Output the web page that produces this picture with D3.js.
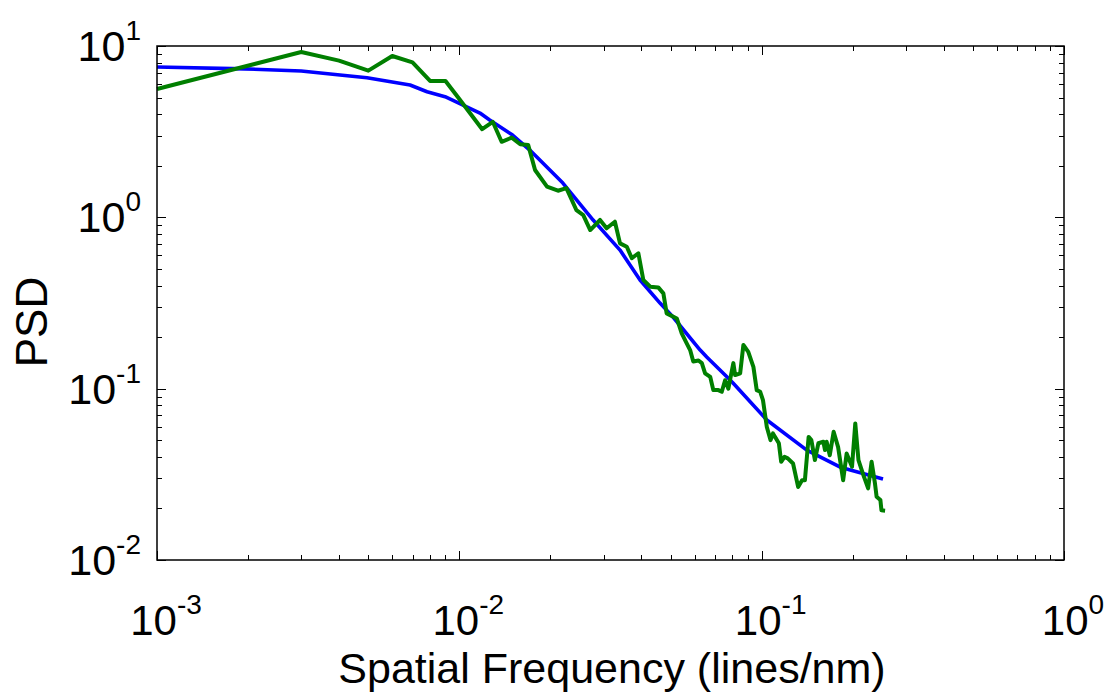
<!DOCTYPE html>
<meta charset="utf-8">
<style>
  body { margin: 0; background: #fff; }
  text { font-family: "Liberation Sans", Arial, Helvetica, sans-serif; fill: #000; }
</style>
<svg width="1109" height="696"></svg>
<script src="https://d3js.org/d3.v7.min.js"></script>
<script>

// smooth model fit (blue)
var fitFreq = [0.001, 0.00195, 0.003, 0.00403, 0.00495, 0.00687, 0.00782, 0.00897, 0.0117, 0.0126,
               0.0150, 0.0171, 0.0220, 0.0277, 0.0340, 0.0396, 0.0461, 0.0509, 0.0626, 0.0658,
               0.0776, 0.0804, 0.104, 0.141, 0.182, 0.252];
var fitPsd  = [7.54, 7.35, 7.15, 6.78, 6.53, 5.92, 5.41, 5.06, 4.06, 3.70,
               3.02, 2.47, 1.585, 0.964, 0.644, 0.431, 0.316, 0.262, 0.168, 0.153,
               0.115, 0.108, 0.0656, 0.0438, 0.0348, 0.0297];

// measured spectrum (green)
var measFreq = [0.001, 0.003, 0.004, 0.005, 0.006, 0.007, 0.008, 0.009, 0.010, 0.0119,
                0.0129, 0.0138, 0.0149, 0.0159, 0.0169, 0.0178, 0.0195, 0.0212, 0.0226, 0.0244,
                0.0257, 0.0271, 0.0292, 0.0307, 0.0327, 0.0340, 0.0358, 0.0372, 0.0391, 0.0406,
                0.0428, 0.0455, 0.0473, 0.0485, 0.0524, 0.0544, 0.0565, 0.0580, 0.0594, 0.0618,
                0.0634, 0.0650, 0.0676, 0.0692, 0.0719, 0.0738, 0.0757, 0.0776, 0.0806, 0.0817,
                0.0849, 0.0870, 0.0903, 0.0939, 0.0963, 0.0989, 0.101, 0.104, 0.107, 0.109,
                0.114, 0.116, 0.119, 0.122, 0.127, 0.132, 0.136, 0.139, 0.143, 0.146,
                0.150, 0.154, 0.160, 0.162, 0.164, 0.168, 0.173, 0.179, 0.186, 0.191,
                0.199, 0.204, 0.209, 0.217, 0.225, 0.231, 0.237, 0.240, 0.247, 0.249, 0.256];
var measPsd  = [5.61, 9.23, 8.21, 7.18, 8.74, 8.03, 6.25, 6.25, 4.91, 3.27,
                3.61, 2.76, 2.92, 2.67, 2.64, 1.89, 1.51, 1.43, 1.48, 1.10,
                1.03, 0.843, 0.965, 0.863, 0.943, 0.705, 0.673, 0.577, 0.617, 0.431,
                0.394, 0.390, 0.360, 0.275, 0.257, 0.210, 0.184, 0.168, 0.144, 0.146,
                0.141, 0.123, 0.117, 0.0981, 0.0981, 0.0959, 0.112, 0.100, 0.141, 0.120,
                0.123, 0.180, 0.164, 0.134, 0.0981, 0.0959, 0.0857, 0.0597, 0.0501, 0.0548,
                0.0480, 0.0374, 0.0400, 0.0392, 0.0366, 0.0267, 0.0292, 0.0292, 0.0523, 0.0501,
                0.0383, 0.0480, 0.0490, 0.0438, 0.0490, 0.0409, 0.0560, 0.0456, 0.0292, 0.0419,
                0.0350, 0.0627, 0.0383, 0.0313, 0.0262, 0.0374, 0.0280, 0.0234, 0.0224, 0.0195, 0.0194];

var xExps = [-3, -2, -1, 0];
var yExps = [-2, -1, 0, 1];

var svg = d3.select("svg");
var pLeft = 157, pRight = 1064, pTop = 46, pBottom = 560;

var x = d3.scaleLog().domain([1e-3, 1]).range([pLeft, pRight]);
var y = d3.scaleLog().domain([1e-2, 10]).range([pBottom, pTop]);

var isMajor = function(v) { return Math.abs(Math.log10(v) - Math.round(Math.log10(v))) < 1e-6; };

// ticks, inward on all four sides
var ticks = svg.append("g").attr("stroke", "#000").attr("stroke-width", 1);
x.ticks().forEach(function(v) {
  var len = isMajor(v) ? 9 : 5, px = Math.round(x(v)) + 0.5;
  ticks.append("line").attr("x1", px).attr("x2", px).attr("y1", pBottom).attr("y2", pBottom - len);
  ticks.append("line").attr("x1", px).attr("x2", px).attr("y1", pTop).attr("y2", pTop + len);
});
y.ticks().forEach(function(v) {
  var len = isMajor(v) ? 9 : 5, py = Math.round(y(v)) + 0.5;
  ticks.append("line").attr("y1", py).attr("y2", py).attr("x1", pLeft).attr("x2", pLeft + len);
  ticks.append("line").attr("y1", py).attr("y2", py).attr("x1", pRight).attr("x2", pRight - len);
});

// curves
var line = function(fx, fy) {
  return d3.line().x(function(d, i) { return x(fx[i]); }).y(function(d, i) { return y(fy[i]); })(fx);
};
svg.append("path").attr("d", line(fitFreq, fitPsd))
  .attr("fill", "none").attr("stroke", "#0000ff").attr("stroke-width", 3.6)
  .attr("stroke-linejoin", "round");
svg.append("path").attr("d", line(measFreq, measPsd))
  .attr("fill", "none").attr("stroke", "#007f00").attr("stroke-width", 4)
  .attr("stroke-linejoin", "round");

// frame
svg.append("rect").attr("x", pLeft).attr("y", pTop).attr("width", pRight - pLeft).attr("height", pBottom - pTop)
  .attr("fill", "none").attr("stroke", "#000").attr("stroke-width", 1.5);

// tick labels
xExps.forEach(function(e) {
  var t = svg.append("text").attr("x", x(Math.pow(10, e)) + 9).attr("y", 635)
    .attr("text-anchor", "middle").style("font-size", "42px");
  t.append("tspan").text("10");
  t.append("tspan").attr("dy", -21).style("font-size", "28px").text(e);
});
yExps.forEach(function(e) {
  var t = svg.append("text").attr("x", 141).attr("y", y(Math.pow(10, e)) + 15)
    .attr("text-anchor", "end").style("font-size", "43px");
  t.append("tspan").text("10");
  t.append("tspan").attr("dy", -21).style("font-size", "28px").text(e);
});

// axis titles
svg.append("text").attr("x", 612).attr("y", 683).attr("text-anchor", "middle")
  .style("font-size", "43px").text("Spatial Frequency (lines/nm)");
svg.append("text").attr("transform", "translate(47,322) rotate(-90)").attr("text-anchor", "middle")
  .style("font-size", "44px").text("PSD");

</script>
